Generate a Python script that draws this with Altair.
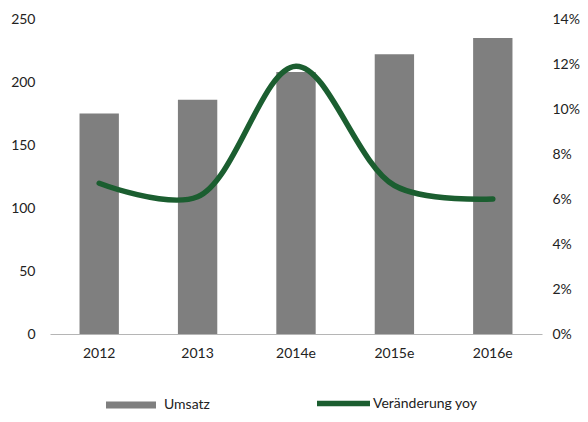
import altair as alt
import pandas as pd

years = ["2012", "2013", "2014e", "2015e", "2016e"]
umsatz = [175, 186, 208, 222, 235]
yoy = [0.067, 0.061, 0.119, 0.066, 0.060]

df = pd.DataFrame({"Jahr": years, "Umsatz": umsatz, "yoy": yoy,
                   "k1": ["Umsatz"] * 5, "k2": ["Veränderung yoy"] * 5})

FONT = "Lato"
GRAY = "#7f7f7f"
GREEN = "#1b5e30"

x = alt.X("Jahr:N", sort=years, title=None,
          scale=alt.Scale(paddingInner=0.6, paddingOuter=0.3),
          axis=alt.Axis(labelAngle=0, ticks=False, domainColor="#b5b5b5",
                        domainWidth=1.2, labelPadding=12, labelFontSize=14,
                        labelColor="#222222", labelFont=FONT))

bars = alt.Chart(df).mark_bar(color=GRAY).encode(
    x=x,
    y=alt.Y("Umsatz:Q", title=None,
            scale=alt.Scale(domain=[0, 250]),
            axis=alt.Axis(values=[0, 50, 100, 150, 200, 250], grid=False,
                          ticks=False, domain=False, labelPadding=15,
                          labelFontSize=14, labelColor="#222222",
                          labelFont=FONT)),
    fill=alt.Fill("k1:N", title=None,
                  scale=alt.Scale(domain=["Umsatz"], range=[GRAY]),
                  legend=alt.Legend(orient="none", legendX=56, legendY=361,
                                    symbolType="M-1,-0.14H1V0.14H-1Z",
                                    symbolSize=2500, symbolStrokeWidth=0,
                                    labelOffset=8, labelFontSize=14,
                                    labelFont=FONT, labelColor="#222222")),
)

line = alt.Chart(df).mark_line(strokeWidth=5.5, interpolate="catmull-rom",
                               strokeCap="round").encode(
    x=x,
    y=alt.Y("yoy:Q", title=None,
            scale=alt.Scale(domain=[0, 0.14]),
            axis=alt.Axis(orient="right",
                          values=[0, 0.02, 0.04, 0.06, 0.08, 0.10, 0.12, 0.14],
                          format=".0%", grid=False, ticks=False, domain=False,
                          labelPadding=10, labelFontSize=14,
                          labelColor="#222222", labelFont=FONT)),
    stroke=alt.Stroke("k2:N", title=None,
                      scale=alt.Scale(domain=["Veränderung yoy"], range=[GREEN]),
                      legend=alt.Legend(orient="none", legendX=264, legendY=355,
                                        symbolType="stroke", symbolSize=2809,
                                        symbolStrokeWidth=5.5,
                                        labelOffset=0, labelFontSize=14,
                                        labelFont=FONT, labelColor="#222222")),
)

chart = alt.layer(bars, line).resolve_scale(
    y="independent", fill="independent", stroke="independent"
).properties(
    width=492, height=315,
    autosize=alt.AutoSizeParams(type="none"),
    padding={"left": 42, "top": 11, "right": 38, "bottom": 80},
).configure_view(stroke=None)

chart.save("out.html", embed_options={"renderer": "svg", "actions": False})
